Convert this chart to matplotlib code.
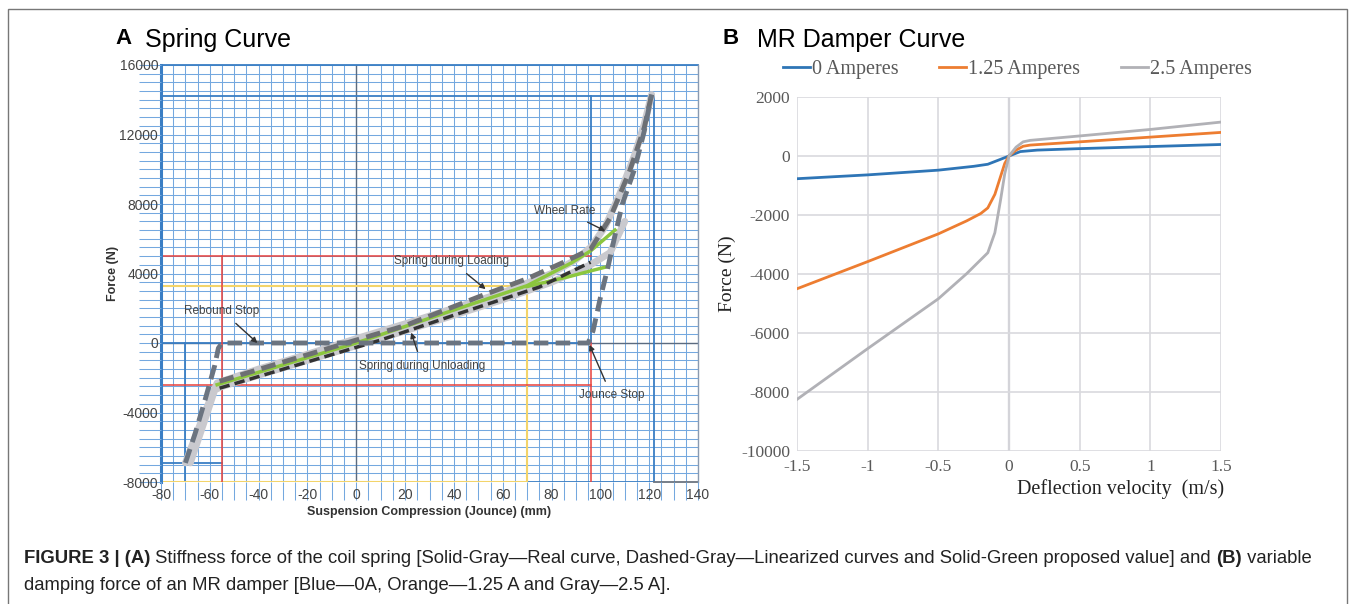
import numpy as np
import matplotlib.pyplot as plt
from matplotlib.patches import Rectangle

# ---------------- Panel A : spring curve (mm, N) ----------------
gray_load_x = [-70, -64, -60, -57, -40, -20, 0, 20, 40, 60, 80, 90, 96, 102, 108, 114, 118, 121]
gray_load_y = [-6900, -4700, -3300, -2300, -1500, -650, 250, 1100, 2000, 2900, 4000, 4800, 5500, 6700, 8600, 10800, 12600, 14300]
gray_unload_x = [-68, -62, -58, -55, -40, -20, 0, 20, 40, 60, 80, 96, 104, 110]
gray_unload_y = [-6900, -4400, -2700, -2500, -1850, -1000, -150, 700, 1600, 2500, 3500, 4500, 5200, 7000]
dash_load_x = [-56, 0, 20, 50, 70, 85, 96, 104, 112, 118, 121]
dash_load_y = [-2200, 170, 1000, 2650, 3700, 4650, 5400, 7200, 9900, 12400, 14300]
dash_unload_x = [-56, 0, 10, 40, 75, 96]
dash_unload_y = [-2600, -250, 170, 1600, 3220, 4650]
green_up_x = [-57, 0, 40, 70, 88, 96, 106]
green_up_y = [-2400, 0, 1900, 3300, 4600, 5300, 6500]
green_low_x = [70, 88, 96, 103]
green_low_y = [3250, 3850, 4150, 4400]
stop_x = [-70, -66, -62, -58, -56.5, -55, -40, 0, 40, 95, 97, 100, 103, 106, 109, 114, 118, 121]
stop_y = [-6900, -5200, -3300, -1300, -300, 0, 0, 0, 0, 0, 700, 2600, 4300, 6200, 8000, 10000, 12200, 14300]

# guide lines drawn on the chart paper: (x list, y list)
blue_guides = [([-80, 122], [14200, 14200]), ([96, 96], [14200, 0]), ([122, 122], [14200, -8000]),
               ([-80, 96], [0, 0]), ([-70, -70], [0, -8000]), ([-80, -55], [-6900, -6900]),
               ([70, 122], [-8000, -8000])]
yellow_guides = [([-80, 70], [3300, 3300]), ([70, 70], [3300, -8000]), ([-80, 70], [-8000, -8000])]
red_guides = [([-80, 96], [5000, 5000]), ([-55, -55], [5000, -8000]), ([-80, 96], [-2400, -2400]),
              ([96, 96], [0, -8000])]

notes = [("Wheel Rate", 85.5, 7600, 102, 6450),
         ("Spring during Loading", 39, 4700, 53, 3100),
         ("Rebound Stop", -55, 1850, -40.5, 0),
         ("Spring during Unloading", 27, -1300, 22.5, 600),
         ("Jounce Stop", 104.5, -3000, 95.5, -100)]

# ---------------- Panel B : MR damper ----------------
vel_0 = [-1.5, -1.0, -0.5, -0.25, -0.15, -0.08, 0, 0.08, 0.2, 0.5, 1.0, 1.5]
f_0 = [-770, -640, -480, -350, -280, -150, 0, 150, 200, 250, 320, 390]
vel_125 = [-1.5, -1.0, -0.5, -0.3, -0.2, -0.15, -0.1, -0.06, -0.03, 0, 0.05, 0.1, 0.15, 0.5, 1.0, 1.5]
f_125 = [-4500, -3580, -2640, -2200, -1950, -1760, -1300, -700, -250, 0, 200, 330, 370, 480, 640, 800]
vel_25 = [-1.5, -1.0, -0.5, -0.3, -0.15, -0.1, -0.06, -0.03, 0, 0.05, 0.1, 0.15, 0.5, 1.0, 1.5]
f_25 = [-8250, -6530, -4840, -3990, -3280, -2600, -1500, -600, 0, 300, 480, 530, 680, 900, 1150]
damper_labels = ["0 Amperes", "1.25 Amperes", "2.5 Amperes"]

fig = plt.figure(figsize=(13.56, 6.04), dpi=100)
W, H = 1356, 604

# outer frame
fig.patches.append(Rectangle((8 / W, -0.05), 1339 / W, 1.05 - 9 / H, transform=fig.transFigure,
                             fill=False, ec='#777777', lw=1))

# ---------- A ----------
grid_c = '#74a8df'
ax = fig.add_axes([161 / W, 1 - 482 / H, 537 / W, 417 / H])
ax.set_xlim(-80, 140)
ax.set_ylim(-8000, 16000)
for gx in np.arange(-80, 141, 5):
    ax.axvline(gx, color=grid_c, lw=0.75, zorder=0)
for gy in np.arange(-8000, 16001, 500):
    ax.axhline(gy, color=grid_c, lw=0.75, zorder=0)
ax.axvline(0, color='#5b6b80', lw=1.0, zorder=0.5)
ax.axhline(0, color='#5b6b80', lw=1.0, zorder=0.5)

for xs, ys in blue_guides:
    ax.plot(xs, ys, color='#3a7ec4', lw=1.3, zorder=1)
for xs, ys in yellow_guides:
    ax.plot(xs, ys, color='#f3d46a', lw=1.5, zorder=1)
for xs, ys in red_guides:
    ax.plot(xs, ys, color='#e8413c', lw=1.1, zorder=1)

ax.plot(gray_load_x, gray_load_y, color='#c9c9ce', lw=5, solid_capstyle='round', zorder=2)
ax.plot(gray_unload_x, gray_unload_y, color='#c9c9ce', lw=5, solid_capstyle='round', zorder=2)
ax.plot(green_up_x, green_up_y, color='#8cc63e', lw=2.5, zorder=3)
ax.plot(green_low_x, green_low_y, color='#8cc63e', lw=2.5, zorder=3)
ax.plot(dash_unload_x, dash_unload_y, color='#333333', lw=2.5, dashes=(3, 1.5), zorder=4)
ax.plot(dash_load_x, dash_load_y, color='#6d6f73', lw=3.5, dashes=(3, 1.5), zorder=4)
ax.plot(stop_x, stop_y, color='#6b7480', lw=3.5, dashes=(3, 1.5), zorder=4)

for txt, tx, ty, px, py in notes:
    ax.annotate(txt, xy=(px, py), xytext=(tx, ty), fontsize=8.5, color='#444444',
                family='Liberation Sans', ha='center', va='center', zorder=6,
                arrowprops=dict(arrowstyle='-|>', color='#333333', lw=1, mutation_scale=8,
                                shrinkA=4, shrinkB=0))

for s in ax.spines.values():
    s.set_visible(False)
ax.plot([-80, -80], [-8000, 16000], color='#3a7ec4', lw=2.2, clip_on=False, zorder=1)
ax.plot([-80, 140], [16000, 16000], color='#3a7ec4', lw=1.3, clip_on=False, zorder=1)
ax.plot([122, 140], [-8000, -8000], color='#6b7480', lw=1.3, clip_on=False, zorder=1)
ax.plot([140, 140], [-8000, 16000], color='#8a9ab0', lw=1.0, clip_on=False, zorder=1)

ax.set_xticks(np.arange(-80, 141, 20))
ax.set_xticks(np.arange(-80, 141, 5), minor=True)
ax.set_yticks(np.arange(-8000, 16001, 4000))
ax.set_yticks(np.arange(-8000, 16001, 500), minor=True)
ax.tick_params(axis='y', which='both', color=grid_c, length=16, width=0.75)
ax.tick_params(axis='y', which='major', labelsize=10, labelcolor='#444444', pad=-14)
ax.tick_params(axis='x', which='both', color=grid_c, length=13, width=0.75)
ax.tick_params(axis='x', which='major', labelsize=10, labelcolor='#444444', pad=-9)
ax.set_xticklabels([str(v) for v in range(-80, 141, 20)], family='Liberation Sans')
ax.set_yticklabels([str(v) for v in range(-8000, 16001, 4000)], family='Liberation Sans')
ax.set_ylabel('Force (N)', fontsize=9, weight='bold', family='Liberation Sans', color='#333333', labelpad=0)
ax.set_xlabel('Suspension Compression (Jounce) (mm)', fontsize=9, weight='bold',
              family='Liberation Sans', color='#333333', labelpad=1)

fig.text(123 / W, 1 - 44 / H, 'A', fontsize=16, weight='bold', family='Liberation Sans', ha='center', va='baseline')
fig.text(145 / W, 1 - 47 / H, 'Spring Curve', fontsize=18, family='Liberation Sans', va='baseline')

# ---------- B ----------
bx = fig.add_axes([797 / W, 1 - 451 / H, 424 / W, 354 / H])
l0, = bx.plot(vel_0, f_0, color='#2e75b6', lw=2, zorder=3)
l1, = bx.plot(vel_125, f_125, color='#ed7d31', lw=2, zorder=3)
l2, = bx.plot(vel_25, f_25, color='#b1b1b6', lw=2, zorder=3)
bx.set_xlim(-1.5, 1.5)
bx.set_ylim(-10000, 2000)
bx.set_xticks(np.arange(-1.5, 1.51, 0.5))
bx.set_yticks(np.arange(-10000, 2001, 2000))
bx.set_xticklabels(['-1.5', '-1', '-0.5', '0', '0.5', '1', '1.5'])
bx.set_yticklabels([str(v) for v in range(-10000, 2001, 2000)])
bx.grid(True, color='#d9d9de', lw=1.2, zorder=0)
bx.axvline(0, color='#bfbfc4', lw=1.6, zorder=1)
for s in bx.spines.values():
    s.set_visible(False)
bx.tick_params(length=0, labelsize=12.5, labelcolor='#595959')
bx.tick_params(axis='x', pad=6)
bx.tick_params(axis='y', pad=5)
for lab in bx.get_xticklabels() + bx.get_yticklabels():
    lab.set_family('Liberation Serif')
bx.set_ylabel('Force (N)', fontsize=14, family='Liberation Serif', color='#222222', labelpad=4)
bx.set_xlabel('Deflection velocity  (m/s)', fontsize=14.5, family='Liberation Serif', color='#222222')
bx.xaxis.set_label_coords(0.762, -0.08)
bx.legend([l0, l1, l2], damper_labels, ncol=3, loc='lower center', bbox_to_anchor=(0.52, 1.0),
          frameon=False, handlelength=1.35, handletextpad=0.1, columnspacing=2.0,
          prop={'family': 'Liberation Serif', 'size': 14.5}, labelcolor='#595959')

fig.text(731 / W, 1 - 44 / H, 'B', fontsize=16, weight='bold', family='Liberation Sans', ha='center', va='baseline')
fig.text(757 / W, 1 - 47 / H, 'MR Damper Curve', fontsize=18, family='Liberation Sans', va='baseline')

# ---------- caption ----------
renderer = fig.canvas.get_renderer()


def rich_line(x_px, y_px, parts, size=13.3):
    x = x_px / W
    for s, w in parts:
        t = fig.text(x, 1 - y_px / H, s, fontsize=size, weight=w, family='Liberation Sans',
                     va='baseline', color='#222222')
        x += t.get_window_extent(renderer=renderer).width / fig.bbox.width


rich_line(24, 563, [('FIGURE 3 | (A)', 'bold'),
                    (' Stiffness force of the coil spring [Solid-Gray\u2014Real curve, Dashed-Gray\u2014Linearized curves and Solid-Green proposed value] and ', 'normal'),
                    ('(B)', 'bold'), (' variable', 'normal')])
rich_line(24, 590, [('damping force of an MR damper [Blue\u20140A, Orange\u20141.25 A and Gray\u20142.5 A].', 'normal')])

fig.savefig('out.png', dpi=100)
